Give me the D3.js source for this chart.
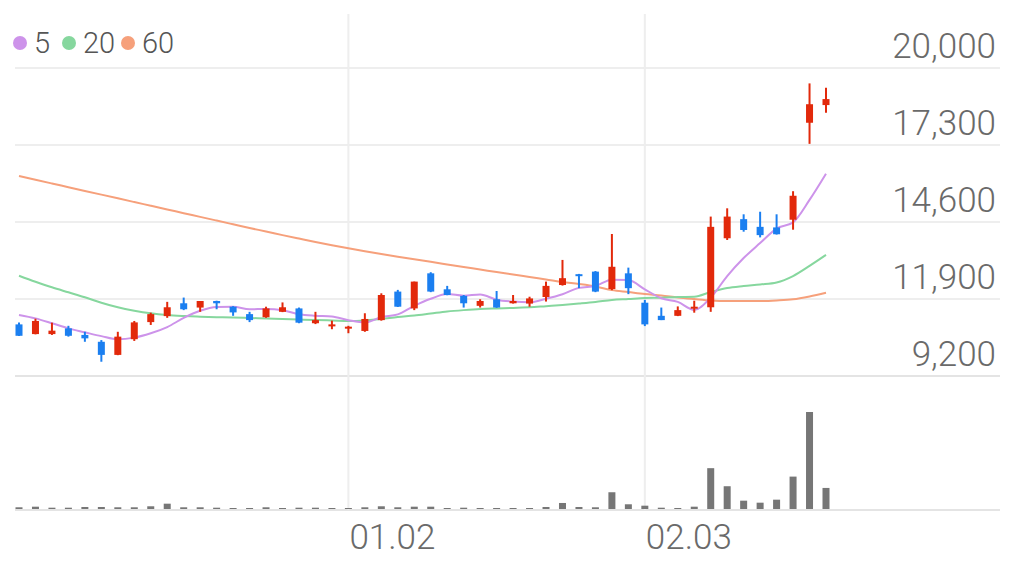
<!DOCTYPE html>
<html>
<head>
<meta charset="utf-8">
<script src="https://cdn.jsdelivr.net/npm/d3@7"></script>
<style>
  html, body { margin: 0; padding: 0; background: #fff; }
  svg { display: block; font-family: Roboto, "Noto Sans", sans-serif; }
</style>
</head>
<body>
<svg id="chart" width="1019" height="565"></svg>
<script>
// ---------- data ----------
const dates = [
  "12.02","12.03","12.04","12.05","12.06","12.09","12.10","12.11","12.12","12.13",
  "12.16","12.17","12.18","12.19","12.20","12.23","12.24","12.26","12.27","12.30",
  "01.02","01.03","01.06","01.07","01.08","01.09","01.10","01.13","01.14","01.15",
  "01.16","01.17","01.20","01.21","01.22","01.23","01.24","01.31",
  "02.03","02.04","02.05","02.06","02.07","02.10","02.11","02.12","02.13","02.14","02.17","02.18"
];
const openP = [11010,10670,10670,10870,10640,10400,9940,10490,11090,11300,
  11750,11600,11830,11630,11370,11260,11450,11570,11050,10960,
  10870,10780,11160,12160,11570,12800,12240,12010,11660,11890,
  11750,11740,11970,12390,12770,12860,12250,12800,
  11770,11310,11310,11570,11610,14030,14700,14430,14410,14680,18080,18700];
const highP = [11080,11210,11070,10960,10750,10460,10750,11130,11420,11800,
  11950,11830,11840,11650,11450,11630,11780,11600,11450,11140,
  10960,11400,12100,12220,12510,12840,12360,12040,11890,12180,
  12040,11980,12510,13270,12780,12880,14180,13000,
  11870,11600,11640,11840,14790,15080,14870,14960,14870,15680,19460,19310];
const lowP = [10600,10660,10640,10580,10400,9700,9930,10430,10990,11240,
  11510,11450,11540,11310,11090,11240,11440,11050,11020,10840,
  10700,10750,11140,11620,11510,12140,12030,11600,11600,11590,
  11740,11630,11810,12370,12280,12140,12210,12070,
  10950,11160,11300,11420,11450,13970,14260,14060,14160,14330,17340,18430];
const closeP = [10610,11130,10790,10610,10520,9940,10580,11080,11370,11610,
  11540,11830,11750,11430,11160,11570,11610,11070,11160,11010,
  10930,11200,12040,11630,12510,12160,12040,11750,11830,11600,
  11830,11920,12360,12630,12710,12160,13030,12280,
  11010,11160,11510,11630,14430,14790,14320,14140,14170,15520,18730,18910];
const volume = [85000,115000,65000,65000,100000,100000,85000,85000,135000,265000,
  85000,85000,65000,35000,50000,85000,35000,65000,65000,35000,
  15000,85000,135000,85000,115000,115000,35000,65000,50000,50000,
  50000,35000,100000,300000,100000,85000,835000,235000,
  165000,65000,50000,115000,2035000,1135000,415000,315000,465000,1615000,4835000,1050000];
const ma5 = [11340,11220,11050,10870,10732,10598,10488,10546,10698,10916,
  11236,11486,11620,11632,11542,11548,11504,11368,11314,11284,
  11156,11074,11268,11362,11662,11908,12076,12018,12058,11876,
  11810,11786,11908,12068,12290,12356,12578,12562,
  12238,11928,11798,11518,11948,12704,13336,13862,14370,14588,15376,16294];
const ma20 = [12717,12507,12310,12135,11960,11770,11609,11490,11399,11340,
  11305,11280,11260,11250,11235,11215,11200,11180,11165,11150,
  11130,11150,11200,11270,11320,11390,11460,11510,11550,11570,
  11585,11610,11650,11690,11740,11795,11865,11900,
  11935,11946,11970,11980,12145,12285,12355,12410,12480,12705,13060,13445];
const ma60 = [16210,16080,15950,15820,15690,15560,15430,15300,15170,15040,
  14910,14780,14650,14520,14390,14267,14140,14018,13898,13786,
  13678,13576,13478,13383,13292,13204,13113,13022,12935,12845,
  12760,12670,12585,12495,12425,12340,12215,12145,
  12075,12025,11955,11900,11850,11830,11830,11830,11850,11890,11990,12120];
const priceTicks = [9200, 11900, 14600, 17300, 20000];
const dateTicks = ["01.02", "02.03"];
const legendLabels = ["5", "20", "60"];

// ---------- styles ----------
const UP = "#e2290b", DOWN = "#1b7ff0";
const maColors = ["#cd93ea", "#86d79e", "#f6a07b"];

const svg = d3.select("#chart");
const x = d3.scalePoint().domain(dates).range([19, 826]);
const y = d3.scaleLinear().domain([9200, 20000]).range([376, 68]);
const yv = d3.scaleLinear().domain([0, d3.max(volume)]).range([509, 412]);

// grid
const grid = svg.append("g");
grid.selectAll("line.h").data(priceTicks).join("line")
  .attr("x1", 15).attr("x2", 1000)
  .attr("y1", d => y(d)).attr("y2", d => y(d))
  .attr("stroke", d => d === 9200 ? "#e4e4e4" : "#eeeeee").attr("stroke-width", 2);
grid.append("line").attr("x1", 15).attr("x2", 1000).attr("y1", 510).attr("y2", 510)
  .attr("stroke", "#e4e4e4").attr("stroke-width", 2);
grid.selectAll("line.v").data(dateTicks).join("line")
  .attr("x1", d => x(d)).attr("x2", d => x(d))
  .attr("y1", 14).attr("y2", 510)
  .attr("stroke", "#eeeeee").attr("stroke-width", 2);

// y labels
svg.append("g").selectAll("text").data(priceTicks).join("text")
  .attr("x", 996).attr("y", d => y(d) - 10)
  .attr("text-anchor", "end")
  .attr("font-size", 35).attr("font-weight", 300).attr("fill", "#6a6a6a")
  .text(d => d3.format(",")(d));

// x labels
svg.append("g").selectAll("text").data(dateTicks).join("text")
  .attr("x", d => x(d) + 1).attr("y", 549)
  .attr("font-size", 35).attr("font-weight", 300).attr("fill", "#6a6a6a")
  .text(d => d);

// volume
svg.append("g").selectAll("rect").data(dates).join("rect")
  .attr("x", d => x(d) - 3.5).attr("width", 7)
  .attr("y", (d, i) => Math.min(yv(volume[i]), 508))
  .attr("height", (d, i) => 509 - Math.min(yv(volume[i]), 508))
  .attr("fill", "#767676");

// MA lines
const line = arr => d3.line().x((d, i) => x(dates[i])).y(d => y(d)).curve(d3.curveMonotoneX)(arr);
[ma60, ma20, ma5].forEach((arr, k) => {
  svg.append("path").attr("d", line(arr)).attr("fill", "none")
    .attr("stroke", maColors[2 - k]).attr("stroke-width", 2);
});

// candles
const cg = svg.append("g");
dates.forEach((d, i) => {
  const up = closeP[i] >= openP[i];
  const col = up ? UP : DOWN;
  const cx = x(d);
  cg.append("line").attr("x1", cx).attr("x2", cx)
    .attr("y1", y(highP[i])).attr("y2", y(lowP[i]))
    .attr("stroke", col).attr("stroke-width", 2);
  const top = y(Math.max(openP[i], closeP[i]));
  const bot = y(Math.min(openP[i], closeP[i]));
  cg.append("rect").attr("x", cx - 3.5).attr("width", 7)
    .attr("y", top).attr("height", Math.max(bot - top, 2))
    .attr("fill", col);
});

// legend
const lg = svg.append("g");
const lx = [20, 69, 128];
legendLabels.forEach((t, k) => {
  lg.append("circle").attr("cx", lx[k]).attr("cy", 43).attr("r", 7).attr("fill", maColors[k]);
  lg.append("text").attr("x", lx[k] + 14).attr("y", 53)
    .attr("font-size", 29).attr("font-weight", 300).attr("fill", "#555").text(t);
});
</script>
</body>
</html>
